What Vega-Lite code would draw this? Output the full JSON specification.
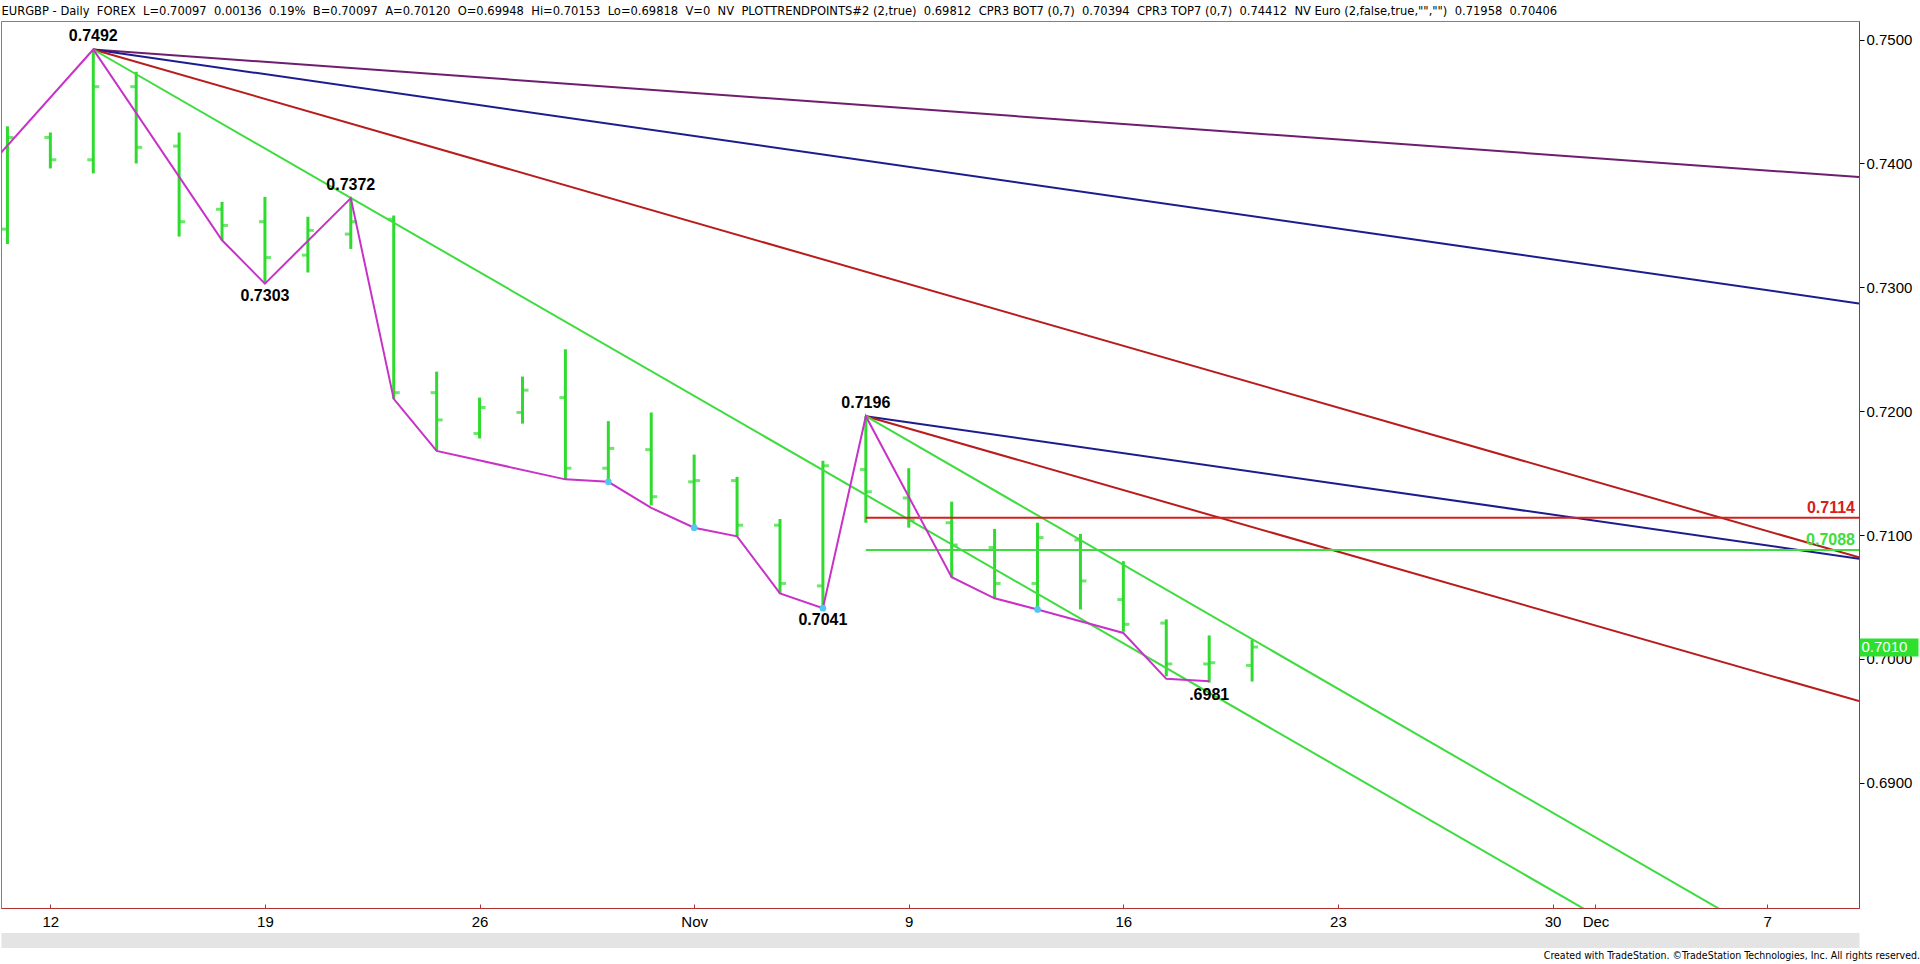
{
  "$schema": "https://vega.github.io/schema/vega-lite/v6.json",
  "width": 1858,
  "height": 887,
  "autosize": {"type": "none"},
  "padding": {"left": 1, "top": 21, "right": 61, "bottom": 56},
  "background": "white",
  "config": {"view": {"stroke": "#808080", "strokeWidth": 1}, "font": "Liberation Sans"},
  "title": {
    "text": "Created with TradeStation. ©TradeStation Technologies, Inc. All rights reserved.",
    "orient": "bottom", "anchor": "end", "frame": "bounds",
    "fontSize": 10.5, "fontWeight": "normal", "font": "'Liberation Sans Narrow', 'DejaVu Sans Condensed', sans-serif", "color": "#000000", "offset": 11, "dx": -7
  },
  "datasets": {
    "bars": [
      {"date": "2015-10-09", "i": 0, "o": 0.7347, "h": 0.7430, "l": 0.7335, "c": 0.7421},
      {"date": "2015-10-12", "i": 1, "o": 0.7421, "h": 0.7425, "l": 0.7396, "c": 0.7403},
      {"date": "2015-10-13", "i": 2, "o": 0.7403, "h": 0.7492, "l": 0.7392, "c": 0.7462},
      {"date": "2015-10-14", "i": 3, "o": 0.7462, "h": 0.7474, "l": 0.7400, "c": 0.7413},
      {"date": "2015-10-15", "i": 4, "o": 0.7414, "h": 0.7425, "l": 0.7341, "c": 0.7353},
      {"date": "2015-10-16", "i": 5, "o": 0.7363, "h": 0.7369, "l": 0.7338, "c": 0.7350},
      {"date": "2015-10-19", "i": 6, "o": 0.7353, "h": 0.7373, "l": 0.7303, "c": 0.7324},
      {"date": "2015-10-20", "i": 7, "o": 0.7326, "h": 0.7357, "l": 0.7312, "c": 0.7346},
      {"date": "2015-10-21", "i": 8, "o": 0.7343, "h": 0.7372, "l": 0.7331, "c": 0.7353},
      {"date": "2015-10-22", "i": 9, "o": 0.7355, "h": 0.7358, "l": 0.7210, "c": 0.7215},
      {"date": "2015-10-23", "i": 10, "o": 0.7215, "h": 0.7232, "l": 0.7168, "c": 0.7193},
      {"date": "2015-10-26", "i": 11, "o": 0.7182, "h": 0.7211, "l": 0.7178, "c": 0.7203},
      {"date": "2015-10-27", "i": 12, "o": 0.7199, "h": 0.7228, "l": 0.7190, "c": 0.7217},
      {"date": "2015-10-28", "i": 13, "o": 0.7211, "h": 0.7250, "l": 0.7145, "c": 0.7154},
      {"date": "2015-10-29", "i": 14, "o": 0.7154, "h": 0.7192, "l": 0.7143, "c": 0.7170},
      {"date": "2015-10-30", "i": 15, "o": 0.7169, "h": 0.7199, "l": 0.7124, "c": 0.7131},
      {"date": "2015-11-02", "i": 16, "o": 0.7143, "h": 0.7165, "l": 0.7106, "c": 0.7144},
      {"date": "2015-11-03", "i": 17, "o": 0.7144, "h": 0.7147, "l": 0.7099, "c": 0.7108},
      {"date": "2015-11-04", "i": 18, "o": 0.7108, "h": 0.7113, "l": 0.7053, "c": 0.7061},
      {"date": "2015-11-05", "i": 19, "o": 0.7059, "h": 0.7160, "l": 0.7041, "c": 0.7156},
      {"date": "2015-11-06", "i": 20, "o": 0.7153, "h": 0.7196, "l": 0.7110, "c": 0.7135},
      {"date": "2015-11-09", "i": 21, "o": 0.7130, "h": 0.7154, "l": 0.7106, "c": 0.7112},
      {"date": "2015-11-10", "i": 22, "o": 0.7110, "h": 0.7127, "l": 0.7066, "c": 0.7092},
      {"date": "2015-11-11", "i": 23, "o": 0.7090, "h": 0.7105, "l": 0.7049, "c": 0.7061},
      {"date": "2015-11-12", "i": 24, "o": 0.7061, "h": 0.7110, "l": 0.7040, "c": 0.7098},
      {"date": "2015-11-13", "i": 25, "o": 0.7096, "h": 0.7101, "l": 0.7040, "c": 0.7063},
      {"date": "2015-11-16", "i": 26, "o": 0.7048, "h": 0.7079, "l": 0.7022, "c": 0.7028},
      {"date": "2015-11-17", "i": 27, "o": 0.7029, "h": 0.7032, "l": 0.6986, "c": 0.6996},
      {"date": "2015-11-18", "i": 28, "o": 0.6996, "h": 0.7019, "l": 0.6981, "c": 0.6997},
      {"date": "2015-11-19", "i": 29, "o": 0.69948, "h": 0.70153, "l": 0.69818, "c": 0.70097}
    ],
    "swing": [
      {"i": -0.5, "p": 0.7395}, {"i": 2, "p": 0.7492}, {"i": 5, "p": 0.7338}, {"i": 6, "p": 0.7303},
      {"i": 8, "p": 0.7372}, {"i": 9, "p": 0.7210}, {"i": 10, "p": 0.7168}, {"i": 13, "p": 0.7145},
      {"i": 14, "p": 0.7143}, {"i": 15, "p": 0.7122}, {"i": 16, "p": 0.7106}, {"i": 17, "p": 0.7099},
      {"i": 18, "p": 0.7053}, {"i": 19, "p": 0.7041}, {"i": 20, "p": 0.7196}, {"i": 22, "p": 0.7066},
      {"i": 23, "p": 0.7049}, {"i": 24, "p": 0.7040}, {"i": 26, "p": 0.7021}, {"i": 27, "p": 0.6984},
      {"i": 28, "p": 0.6982}
    ],
    "dots": [
      {"i": 14, "p": 0.7143}, {"i": 16, "p": 0.7106}, {"i": 19, "p": 0.7041}, {"i": 24, "p": 0.7040}
    ],
    "lines": [
      {"id": "purple", "i": 2, "p": 0.7492}, {"id": "purple", "i": 43.14, "p": 0.7389},
      {"id": "navy1", "i": 2, "p": 0.7492}, {"id": "navy1", "i": 43.14, "p": 0.7287},
      {"id": "red1", "i": 2, "p": 0.7492}, {"id": "red1", "i": 43.14, "p": 0.7082},
      {"id": "green1", "i": 2, "p": 0.7492}, {"id": "green1", "i": 37.5, "p": 0.6783},
      {"id": "navy2", "i": 20, "p": 0.7196}, {"id": "navy2", "i": 43.14, "p": 0.7081},
      {"id": "red2", "i": 20, "p": 0.7196}, {"id": "red2", "i": 43.14, "p": 0.6966},
      {"id": "green2", "i": 20, "p": 0.7196}, {"id": "green2", "i": 40.5, "p": 0.6786},
      {"id": "hRed", "i": 20, "p": 0.7114}, {"id": "hRed", "i": 43.14, "p": 0.7114},
      {"id": "hGreen", "i": 20, "p": 0.7088}, {"id": "hGreen", "i": 43.14, "p": 0.7088}
    ],
    "labels": [
      {"i": 2, "p": 0.7492, "t": "0.7492", "pos": "above"},
      {"i": 6, "p": 0.7303, "t": "0.7303", "pos": "below"},
      {"i": 8, "p": 0.7372, "t": "0.7372", "pos": "above"},
      {"i": 19, "p": 0.7041, "t": "0.7041", "pos": "below"},
      {"i": 20, "p": 0.7196, "t": "0.7196", "pos": "above"},
      {"i": 28, "p": 0.6981, "t": ".6981", "pos": "below"}
    ]
  },
  "layer": [
    {
      "data": {"name": "bars"},
      "mark": {"type": "rule", "color": "#2EDB2E", "strokeWidth": 3},
      "encoding": {
        "x": {"field": "i", "type": "quantitative",
              "scale": {"domain": [-0.15, 43.14], "nice": false, "zero": false},
              "axis": {"orient": "bottom", "values": [1, 6, 11, 16, 21, 26, 31, 36, 37, 41],
                       "labelExpr": "datum.value == 1 ? '12' : datum.value == 6 ? '19' : datum.value == 11 ? '26' : datum.value == 16 ? 'Nov' : datum.value == 21 ? '9' : datum.value == 26 ? '16' : datum.value == 31 ? '23' : datum.value == 36 ? '30' : datum.value == 37 ? 'Dec' : datum.value == 41 ? '7' : ''",
                       "title": null, "grid": false, "domainColor": "#B03030", "tickColor": "#B03030",
                       "tickSize": -4, "labelFontSize": 15, "labelColor": "#000000", "labelPadding": 10,
                       "labelOverlap": false, "labelFlush": false, "zindex": 1}},
        "y": {"field": "l", "type": "quantitative",
              "scale": {"domain": [0.6799, 0.7515], "nice": false, "zero": false},
              "axis": {"orient": "right", "values": [0.69, 0.70, 0.71, 0.72, 0.73, 0.74, 0.75], "format": ".4f",
                       "title": null, "grid": false, "domainColor": "#B03030", "tickColor": "#000000",
                       "tickSize": 5, "labelFontSize": 15, "labelPadding": 2, "labelColor": "#000000", "zindex": 1}},
        "y2": {"field": "h"}
      }
    },
    {
      "data": {"name": "bars"},
      "mark": {"type": "tick", "orient": "horizontal", "color": "#2EDB2E", "size": 6, "thickness": 3, "xOffset": -3},
      "encoding": {
        "x": {"field": "i", "type": "quantitative", "scale": {"domain": [-0.15, 43.14], "nice": false, "zero": false}, "axis": null},
        "y": {"field": "o", "type": "quantitative", "scale": {"domain": [0.6799, 0.7515], "nice": false, "zero": false}, "axis": null}
      }
    },
    {
      "data": {"name": "bars"},
      "mark": {"type": "tick", "orient": "horizontal", "color": "#2EDB2E", "size": 6, "thickness": 3, "xOffset": 3},
      "encoding": {
        "x": {"field": "i", "type": "quantitative", "scale": {"domain": [-0.15, 43.14], "nice": false, "zero": false}, "axis": null},
        "y": {"field": "c", "type": "quantitative", "scale": {"domain": [0.6799, 0.7515], "nice": false, "zero": false}, "axis": null}
      }
    },
    {
      "data": {"name": "lines"},
      "mark": {"type": "line", "strokeWidth": 2, "clip": true},
      "encoding": {
        "x": {"field": "i", "type": "quantitative", "scale": {"domain": [-0.15, 43.14], "nice": false, "zero": false}, "axis": null},
        "y": {"field": "p", "type": "quantitative", "scale": {"domain": [0.6799, 0.7515], "nice": false, "zero": false}, "axis": null},
        "color": {"field": "id", "type": "nominal", "legend": null,
                  "scale": {"domain": ["purple", "navy1", "red1", "green1", "navy2", "red2", "green2", "hRed", "hGreen"],
                            "range": ["#6E1E6E", "#1C1C8E", "#B81C1C", "#3EDC3E", "#1C1C8E", "#B81C1C", "#3EDC3E", "#D42020", "#3EDC3E"]}}
      }
    },
    {
      "data": {"name": "swing"},
      "mark": {"type": "line", "color": "#C832C8", "strokeWidth": 2, "clip": true},
      "encoding": {
        "x": {"field": "i", "type": "quantitative", "scale": {"domain": [-0.15, 43.14], "nice": false, "zero": false},
              "axis": {"orient": "top", "labels": false, "ticks": false, "domain": false, "grid": false,
                       "title": "EURGBP - Daily \u00a0FOREX \u00a0L=0.70097 \u00a00.00136 \u00a00.19% \u00a0B=0.70097 \u00a0A=0.70120 \u00a0O=0.69948 \u00a0Hi=0.70153 \u00a0Lo=0.69818 \u00a0V=0 \u00a0NV \u00a0PLOTTRENDPOINTS#2 (2,true) \u00a00.69812 \u00a0CPR3 BOT7 (0,7) \u00a00.70394 \u00a0CPR3 TOP7 (0,7) \u00a00.74412 \u00a0NV Euro (2,false,true,\"\",\"\") \u00a00.71958 \u00a00.70406",
                       "titleAnchor": "start", "titleAlign": "left", "titleFontSize": 12.8, "titleFontWeight": "normal",
                       "titleFont": "'Liberation Sans Narrow', 'DejaVu Sans Condensed', sans-serif", "titleColor": "#000000", "titlePadding": 4, "zindex": 1}},
        "y": {"field": "p", "type": "quantitative", "scale": {"domain": [0.6799, 0.7515], "nice": false, "zero": false}, "axis": null}
      }
    },
    {
      "data": {"name": "dots"},
      "mark": {"type": "point", "filled": true, "color": "#52C7F0", "size": 45, "opacity": 1},
      "encoding": {
        "x": {"field": "i", "type": "quantitative", "scale": {"domain": [-0.15, 43.14], "nice": false, "zero": false},
              "axis": {"orient": "bottom", "offset": 32, "labels": false, "ticks": false, "grid": false, "title": null,
                       "domainColor": "#E4E4E4", "domainWidth": 15, "zindex": 1}},
        "y": {"field": "p", "type": "quantitative", "scale": {"domain": [0.6799, 0.7515], "nice": false, "zero": false},
              "axis": {"orient": "right", "values": [0.70097], "format": ".4f", "title": null, "grid": false, "domain": false,
                       "labelColor": "#FFFFFF", "labelFontSize": 15, "tickSize": 59, "tickWidth": 18, "tickColor": "#2DE02D",
                       "labelPadding": -57, "zindex": 2}}
      }
    },
    {
      "data": {"name": "labels"},
      "transform": [{"filter": "datum.pos == 'above'"}],
      "mark": {"type": "text", "fontSize": 16, "fontWeight": "bold", "color": "#000000", "align": "center", "baseline": "middle", "dy": -13},
      "encoding": {
        "x": {"field": "i", "type": "quantitative", "scale": {"domain": [-0.15, 43.14], "nice": false, "zero": false}, "axis": null},
        "y": {"field": "p", "type": "quantitative", "scale": {"domain": [0.6799, 0.7515], "nice": false, "zero": false}, "axis": null},
        "text": {"field": "t"}
      }
    },
    {
      "data": {"name": "labels"},
      "transform": [{"filter": "datum.pos == 'below'"}],
      "mark": {"type": "text", "fontSize": 16, "fontWeight": "bold", "color": "#000000", "align": "center", "baseline": "middle", "dy": 12},
      "encoding": {
        "x": {"field": "i", "type": "quantitative", "scale": {"domain": [-0.15, 43.14], "nice": false, "zero": false}, "axis": null},
        "y": {"field": "p", "type": "quantitative", "scale": {"domain": [0.6799, 0.7515], "nice": false, "zero": false}, "axis": null},
        "text": {"field": "t"}
      }
    },
    {
      "data": {"name": "lines"},
      "transform": [{"filter": "(datum.id == 'hRed' || datum.id == 'hGreen') && datum.i > 43"}],
      "mark": {"type": "text", "fontSize": 16, "fontWeight": "bold", "align": "right", "baseline": "alphabetic", "dx": -4, "dy": -5},
      "encoding": {
        "x": {"field": "i", "type": "quantitative", "scale": {"domain": [-0.15, 43.14], "nice": false, "zero": false}, "axis": null},
        "y": {"field": "p", "type": "quantitative", "scale": {"domain": [0.6799, 0.7515], "nice": false, "zero": false}, "axis": null},
        "text": {"field": "p", "type": "quantitative", "format": ".4f"},
        "color": {"field": "id", "type": "nominal", "legend": null,
                  "scale": {"domain": ["purple", "navy1", "red1", "green1", "navy2", "red2", "green2", "hRed", "hGreen"],
                            "range": ["#6E1E6E", "#1C1C8E", "#B81C1C", "#3EDC3E", "#1C1C8E", "#B81C1C", "#3EDC3E", "#D42020", "#3EDC3E"]}}
      }
    }
  ],
  "resolve": {"axis": {"x": "independent", "y": "independent"}}
}
